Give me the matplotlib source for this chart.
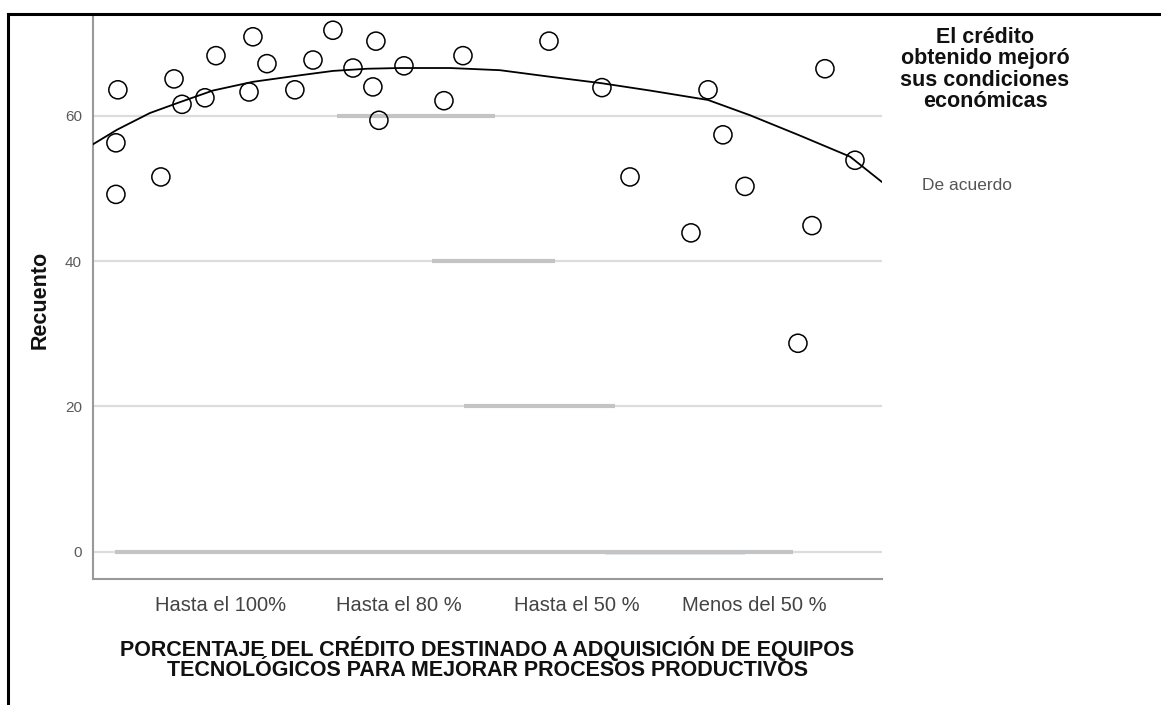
import matplotlib
matplotlib.use("Agg")
import matplotlib.pyplot as plt
from matplotlib.lines import Line2D

plt.rcParams['font.family'] = ['Liberation Sans', 'DejaVu Sans']

# ---- data ----
categories = ["Hasta el 100%", "Hasta el 80 %", "Hasta el 50 %", "Menos del 50 %"]
category_pos = [1, 2, 3, 4]

points_x = [0.420, 0.409, 0.409, 0.662, 0.736, 0.781, 0.910, 0.972, 1.180, 1.158,
            1.259, 1.416, 1.518, 1.630, 1.743, 1.872, 1.855, 1.889, 2.030, 2.255,
            2.362, 2.846, 3.144, 3.302, 3.645, 3.741, 3.825, 3.949, 4.247, 4.326,
            4.399, 4.568]
points_y = [63.6, 56.3, 49.2, 51.6, 65.1, 61.6, 62.5, 68.3, 70.9, 63.3,
            67.2, 63.6, 67.7, 71.8, 66.6, 70.3, 64.0, 59.4, 66.9, 62.1,
            68.3, 70.3, 63.9, 51.6, 43.9, 63.6, 57.4, 50.3, 28.7, 44.9,
            66.5, 53.9]

fit_x = [0.280, 0.415, 0.600, 0.769, 0.955, 1.180, 1.445, 1.630, 1.822, 2.007,
         2.289, 2.570, 2.851, 3.144, 3.414, 3.741, 3.977, 4.258, 4.540, 4.720]
fit_y = [56.1, 58.1, 60.4, 61.9, 63.5, 64.7, 65.6, 66.2, 66.5, 66.6,
         66.6, 66.3, 65.4, 64.5, 63.5, 62.2, 60.1, 57.3, 54.4, 50.9]

y_ticks = [0, 20, 40, 60]

legend_title = "El crédito\nobtenido mejoró\nsus condiciones\neconómicas"
legend_entry = "De acuerdo"
x_title = ("PORCENTAJE DEL CRÉDITO DESTINADO A ADQUISICIÓN DE EQUIPOS\n"
           "TECNOLÓGICOS PARA MEJORAR PROCESOS PRODUCTIVOS")
y_title = "Recuento"

# ---- figure ----
W, H = 1161, 705
fig = plt.figure(figsize=(W / 100, H / 100), dpi=100)
fig.patch.set_facecolor("white")

left_px, right_px, top_px, bottom_px = 93, 882, 15, 579
ax = fig.add_axes([left_px / W, 1 - bottom_px / H,
                   (right_px - left_px) / W, (bottom_px - top_px) / H])

ax.set_xlim(0.28, 4.72)
ax.set_ylim(-3.76, 73.9)

# gridlines
for yv in y_ticks:
    ax.axhline(yv, color="#dcdcdc", lw=1.6, zorder=0)

# darker grid segments (artefacts in the reference)
def seg(yv, x0px, x1px, color="#c4c4c4", lw=3.0, z=0.5):
    ax.axhline(yv, xmin=(x0px - left_px) / (right_px - left_px),
               xmax=(x1px - left_px) / (right_px - left_px),
               color=color, lw=lw, zorder=z, solid_capstyle="butt")

seg(60, 337, 495)
seg(40, 432, 555)
seg(20, 464, 615)
seg(0, 115, 793)
seg(-0.35, 605, 745, color="#dde4ee", lw=1.2, z=0.4)

ax.scatter(points_x, points_y, s=170, facecolors="none", edgecolors="black",
           linewidths=1.1, zorder=3)
ax.plot(fit_x, fit_y, color="black", lw=1.3, zorder=4)

ax.set_yticks(y_ticks)
ax.set_yticklabels([str(v) for v in y_ticks], fontsize=11, color="#5a5a5a")
ax.set_xticks(category_pos)
ax.set_xticklabels(categories, fontsize=14.5, color="#444444")
ax.tick_params(axis="both", length=0)
ax.tick_params(axis="y", pad=8)
ax.tick_params(axis="x", pad=12)

for s in ["top", "right"]:
    ax.spines[s].set_visible(False)
for s in ["left", "bottom"]:
    ax.spines[s].set_color("#999999")
    ax.spines[s].set_linewidth(1.5)

# axis titles
fig.text(40 / W, 1 - 300 / H, y_title, rotation=90, ha="center", va="center",
         fontsize=15.5, fontweight="bold", color="#111111")
fig.text(487.5 / W, 1 - 636 / H, x_title, ha="center", va="top",
         fontsize=15.5, fontweight="bold", color="#111111", linespacing=0.95)

# legend
fig.text(985 / W, 1 - 27 / H, legend_title, ha="center", va="top",
         multialignment="center", fontsize=15.5, fontweight="bold",
         color="#111111", linespacing=1.02)
fig.text(922 / W, 1 - 186 / H, legend_entry, ha="left", va="center",
         fontsize=12.5, color="#555555")

# outer frame lines (top and left)
fig.add_artist(Line2D([8 / W, 1.0], [1 - 14 / H, 1 - 14 / H],
                      transform=fig.transFigure, color="black", lw=2.2))
fig.add_artist(Line2D([8 / W, 8 / W], [0, 1 - 14 / H],
                      transform=fig.transFigure, color="black", lw=2.2))

fig.savefig("out.png", dpi=100, facecolor="white")
